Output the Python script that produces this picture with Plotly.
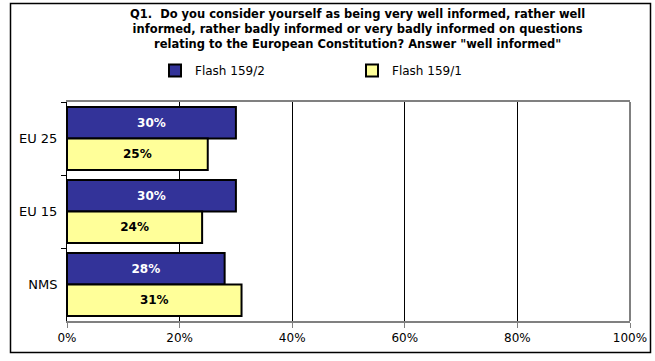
import plotly.graph_objects as go

categories = ["EU 25", "EU 15", "NMS"]
flash_159_2 = [30, 30, 28]
flash_159_1 = [25, 24, 31]
x_ticks = [0, 20, 40, 60, 80, 100]
x_tick_labels = ["0%", "20%", "40%", "60%", "80%", "100%"]
title_text = ("Q1.  Do you consider yourself as being very well informed, rather well<br>"
              "informed, rather badly informed or very badly informed on questions<br>"
              "relating to the European Constitution? Answer \"well informed\"")

FONT = "DejaVu Sans"
W, H = 655, 361
L, R, T, B = 67, 25, 102, 40
pw, ph = W - L - R, H - T - B

def px_x(x):
    return (x - L) / pw

def px_y(y):
    return (H - B - y) / ph

fig = go.Figure()
fig.add_trace(go.Bar(
    y=categories, x=flash_159_2, orientation="h", name="Flash 159/2",
    marker=dict(color="#333399", line=dict(color="black", width=2)),
    text=[f"{v}%" for v in flash_159_2], textposition="inside",
    insidetextanchor="middle", textangle=0,
    textfont=dict(family=FONT, size=12, color="white", weight="bold"),
))
fig.add_trace(go.Bar(
    y=categories, x=flash_159_1, orientation="h", name="Flash 159/1",
    marker=dict(color="#FFFF99", line=dict(color="black", width=2)),
    text=[f"{v}%" for v in flash_159_1], textposition="inside",
    insidetextanchor="middle", textangle=0,
    textfont=dict(family=FONT, size=12, color="black", weight="bold"),
))

fig.update_layout(
    width=W, height=H,
    margin=dict(l=L, r=R, t=T, b=B, autoexpand=False),
    paper_bgcolor="white", plot_bgcolor="white",
    barmode="group", bargap=0.14, bargroupgap=0,
    font=dict(family=FONT, size=12, color="black"),
    showlegend=True,
    legend=dict(orientation="h", x=px_x(155), y=px_y(56), xanchor="left", yanchor="top",
                entrywidth=152, entrywidthmode="pixels", traceorder="normal",
                font=dict(family=FONT, size=12), bgcolor="rgba(0,0,0,0)",
                itemclick=False),
    xaxis=dict(range=[0, 100], tickvals=x_ticks, ticktext=x_tick_labels,
               showgrid=True, gridcolor="black", gridwidth=1,
               showline=True, linecolor="#808080", linewidth=2, mirror=True,
               ticks="outside", ticklen=5, tickcolor="#808080", zeroline=False,
               tickfont=dict(family=FONT, size=12), automargin=False),
    yaxis=dict(autorange="reversed", showline=True, linecolor="black", linewidth=1,
               ticks="outside", ticklen=5, tickcolor="black", tickson="boundaries",
               showgrid=False, tickfont=dict(family=FONT, size=13),
               ticklabelstandoff=6, automargin=False),
    annotations=[dict(text="<b>" + title_text + "</b>", x=px_x(357), y=px_y(5),
                      xref="paper", yref="paper", xanchor="center", yanchor="top",
                      showarrow=False, align="center",
                      font=dict(family=FONT, size=11.5, color="black"))],
    shapes=[
        dict(type="line", xref="paper", yref="paper", x0=1, x1=1, y0=0, y1=1,
             line=dict(color="#808080", width=2), layer="above"),
        dict(type="rect", xref="paper", yref="paper",
             x0=px_x(10.5), x1=px_x(650.5), y0=px_y(352.5), y1=px_y(3.5),
             line=dict(color="black", width=1.5), layer="above"),
    ],
)

fig.write_html("out.html", config={"displayModeBar": False},
               post_script="document.body.style.margin='0';document.body.style.overflow='hidden';")
